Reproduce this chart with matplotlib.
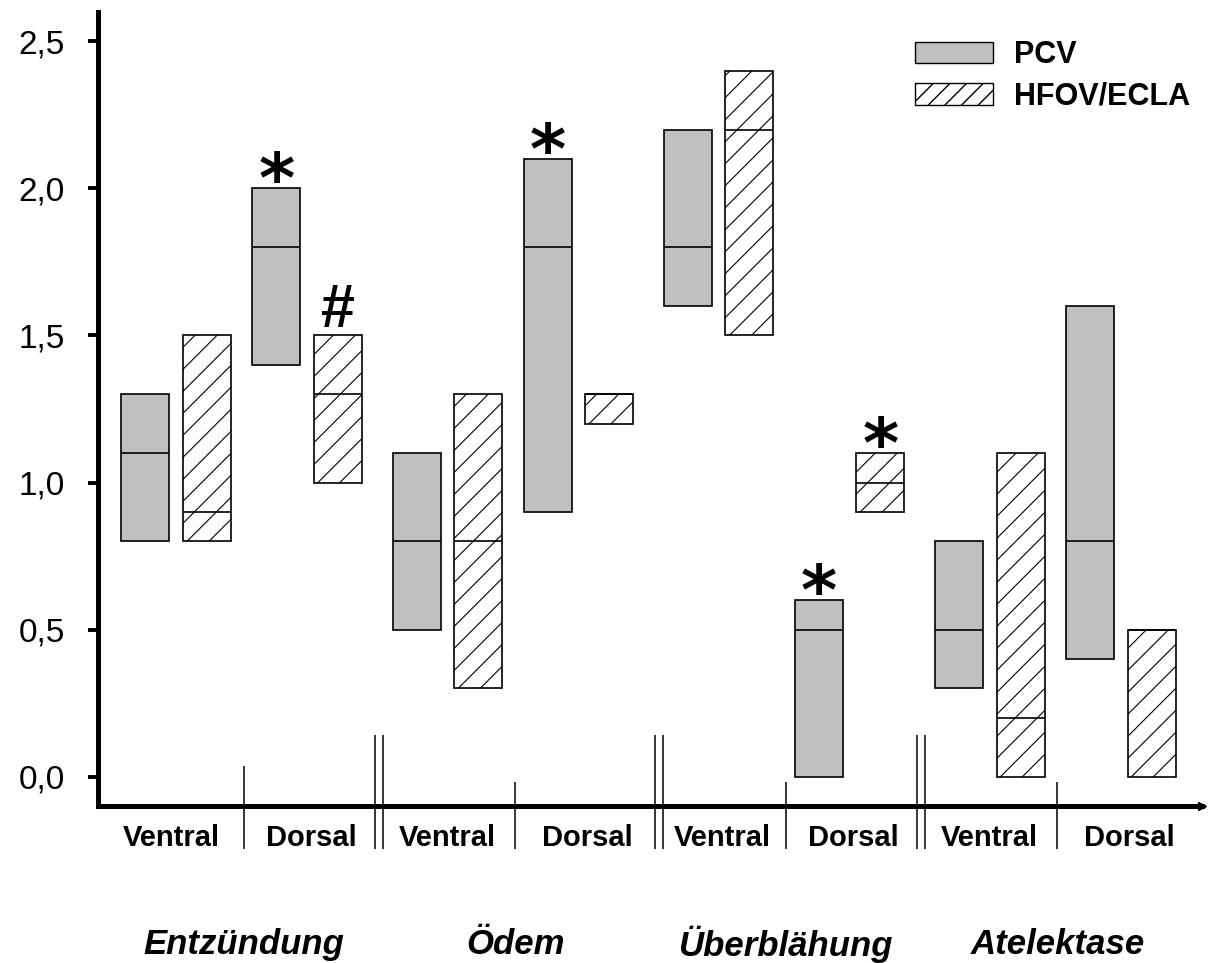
import matplotlib
matplotlib.use('Agg')
import numpy as np
import matplotlib.pyplot as plt
from matplotlib.patches import Patch
from matplotlib.ticker import FuncFormatter

plt.rcParams['font.family'] = ['Liberation Sans', 'DejaVu Sans']
plt.rcParams['hatch.linewidth'] = 1.0

# Daten: je Gruppe Ventral / Dorsal
groups = ['Entzündung', 'Ödem', 'Überblähung', 'Atelektase']
sides = ['Ventral', 'Dorsal']

pcv_low = [0.8, 1.4, 0.5, 0.9, 1.6, 0.0, 0.3, 0.4]
pcv_med = [1.1, 1.8, 0.8, 1.8, 1.8, 0.5, 0.5, 0.8]
pcv_high = [1.3, 2.0, 1.1, 2.1, 2.2, 0.6, 0.8, 1.6]

hfov_low = [0.8, 1.0, 0.3, 1.2, 1.5, 0.9, 0.0, 0.0]
hfov_med = [0.9, 1.3, 0.8, 1.3, 2.2, 1.0, 0.2, 0.5]
hfov_high = [1.5, 1.5, 1.3, 1.3, 2.4, 1.1, 1.1, 0.5]

pcv_marks = ['', '*', '', '*', '', '*', '', '']
hfov_marks = ['', '#', '', '', '', '*', '', '']

y_ticks = [0.0, 0.5, 1.0, 1.5, 2.0, 2.5]

# Layout
group_step = 4.41
side_step = 2.13
pair_step = 1.0
bar_w = 0.78
double_sep = [3.8, 8.35, 12.61]
x_min, x_max = -0.772, 17.18
y_min, y_max = -0.1, 2.6
hatch_gap = 22  # Pixel

fig = plt.figure(figsize=(12.19, 9.63), dpi=100)
ax = fig.add_axes([98 / 1219, 1 - 806 / 963, 1104 / 1219, 794 / 963])
ax.set_xlim(x_min, x_max)
ax.set_ylim(y_min, y_max)

# Pixel pro Dateneinheit
kx = ax.bbox.width / (x_max - x_min)
ky = ax.bbox.height / (y_max - y_min)

base = np.array([g * group_step + s * side_step
                 for g in range(len(groups)) for s in range(len(sides))])
x_pcv = base
x_hfov = base + pair_step


def hatch_patch(p):
    # schraege Linien im 45-Grad-Winkel, auf den Balken beschnitten
    x0, y0 = p.get_x(), p.get_y()
    w_px, h_px = p.get_width() * kx, p.get_height() * ky
    for c in np.arange(-w_px, h_px, hatch_gap):
        xr = np.array([0, w_px])
        yr = xr + c
        ln, = ax.plot(x0 + xr / kx, y0 + yr / ky, color='black', lw=0.8, zorder=3.5)
        ln.set_clip_path(p)


def draw_boxes(x, low, med, high, marks, hatched=False, **style):
    low = np.array(low)
    high = np.array(high)
    bars = ax.bar(x, high - low, bottom=low, width=bar_w, edgecolor='black',
                  linewidth=1.2, zorder=3, **style)
    if hatched:
        for p in bars.patches:
            hatch_patch(p)
    ax.hlines(med, x - bar_w / 2, x + bar_w / 2, color='black', lw=1.2, zorder=4)
    for xi, hi, m in zip(x, high, marks):
        if m == '*':
            ax.annotate('*', (xi, hi), xytext=(0, -10), textcoords='offset points',
                        ha='center', va='baseline', fontsize=50,
                        fontfamily='DejaVu Sans', fontweight='bold')
        elif m == '#':
            ax.annotate('#', (xi, hi), xytext=(0, 6), textcoords='offset points',
                        ha='center', va='baseline', fontsize=44, fontweight='bold')


draw_boxes(x_pcv, pcv_low, pcv_med, pcv_high, pcv_marks, color='#c0c0c0')
draw_boxes(x_hfov, hfov_low, hfov_med, hfov_high, hfov_marks, hatched=True,
           facecolor='white')

ax.set_xticks([])
ax.set_yticks(y_ticks)
ax.yaxis.set_major_formatter(FuncFormatter(lambda v, p: f'{v:.1f}'.replace('.', ',')))
ax.tick_params(axis='y', direction='out', length=7, width=2.8, pad=17, labelsize=24)

for side in ['top', 'right']:
    ax.spines[side].set_visible(False)
for side in ['left', 'bottom']:
    ax.spines[side].set_linewidth(3.6)
ax.plot(1, 0, '>k', ms=6, transform=ax.transAxes, clip_on=False)

# Trennlinien unter der Achse
singles = [g * group_step + 1.6 for g in range(len(groups))]
for i, xs in enumerate(singles):
    top = 0.035 if i == 0 else -0.02
    ax.vlines(xs, -0.245, top, color='black', lw=1.1, clip_on=False)
for xd in double_sep:
    for dx in (-0.065, 0.065):
        ax.vlines(xd + dx, -0.245, 0.14, color='black', lw=1.1, clip_on=False)

bounds = [x_min]
for g in range(len(groups)):
    bounds.append(singles[g])
    bounds.append(double_sep[g] if g < len(double_sep) else x_max)
for i in range(len(bounds) - 1):
    ax.text((bounds[i] + bounds[i + 1]) / 2, -0.236, sides[i % 2],
            ha='center', va='baseline', fontsize=21, fontweight='bold')

for g, name in enumerate(groups):
    ax.text(singles[g], -0.57, name, ha='center', va='center', fontsize=25,
            fontweight='bold', fontstyle='italic')

handles = [Patch(facecolor='#c0c0c0', edgecolor='black', label='PCV'),
           Patch(facecolor='white', edgecolor='black', hatch='//', label='HFOV/ECLA')]
ax.legend(handles=handles, loc='upper left', bbox_to_anchor=((915 - 98) / 1104, 1 - 28 / 794),
          frameon=False, borderpad=0, borderaxespad=0, handlelength=2.55,
          handleheight=0.69, handletextpad=0.7, labelspacing=0.38,
          prop={'weight': 'bold', 'size': 22})

fig.savefig('out.png', dpi=100)
